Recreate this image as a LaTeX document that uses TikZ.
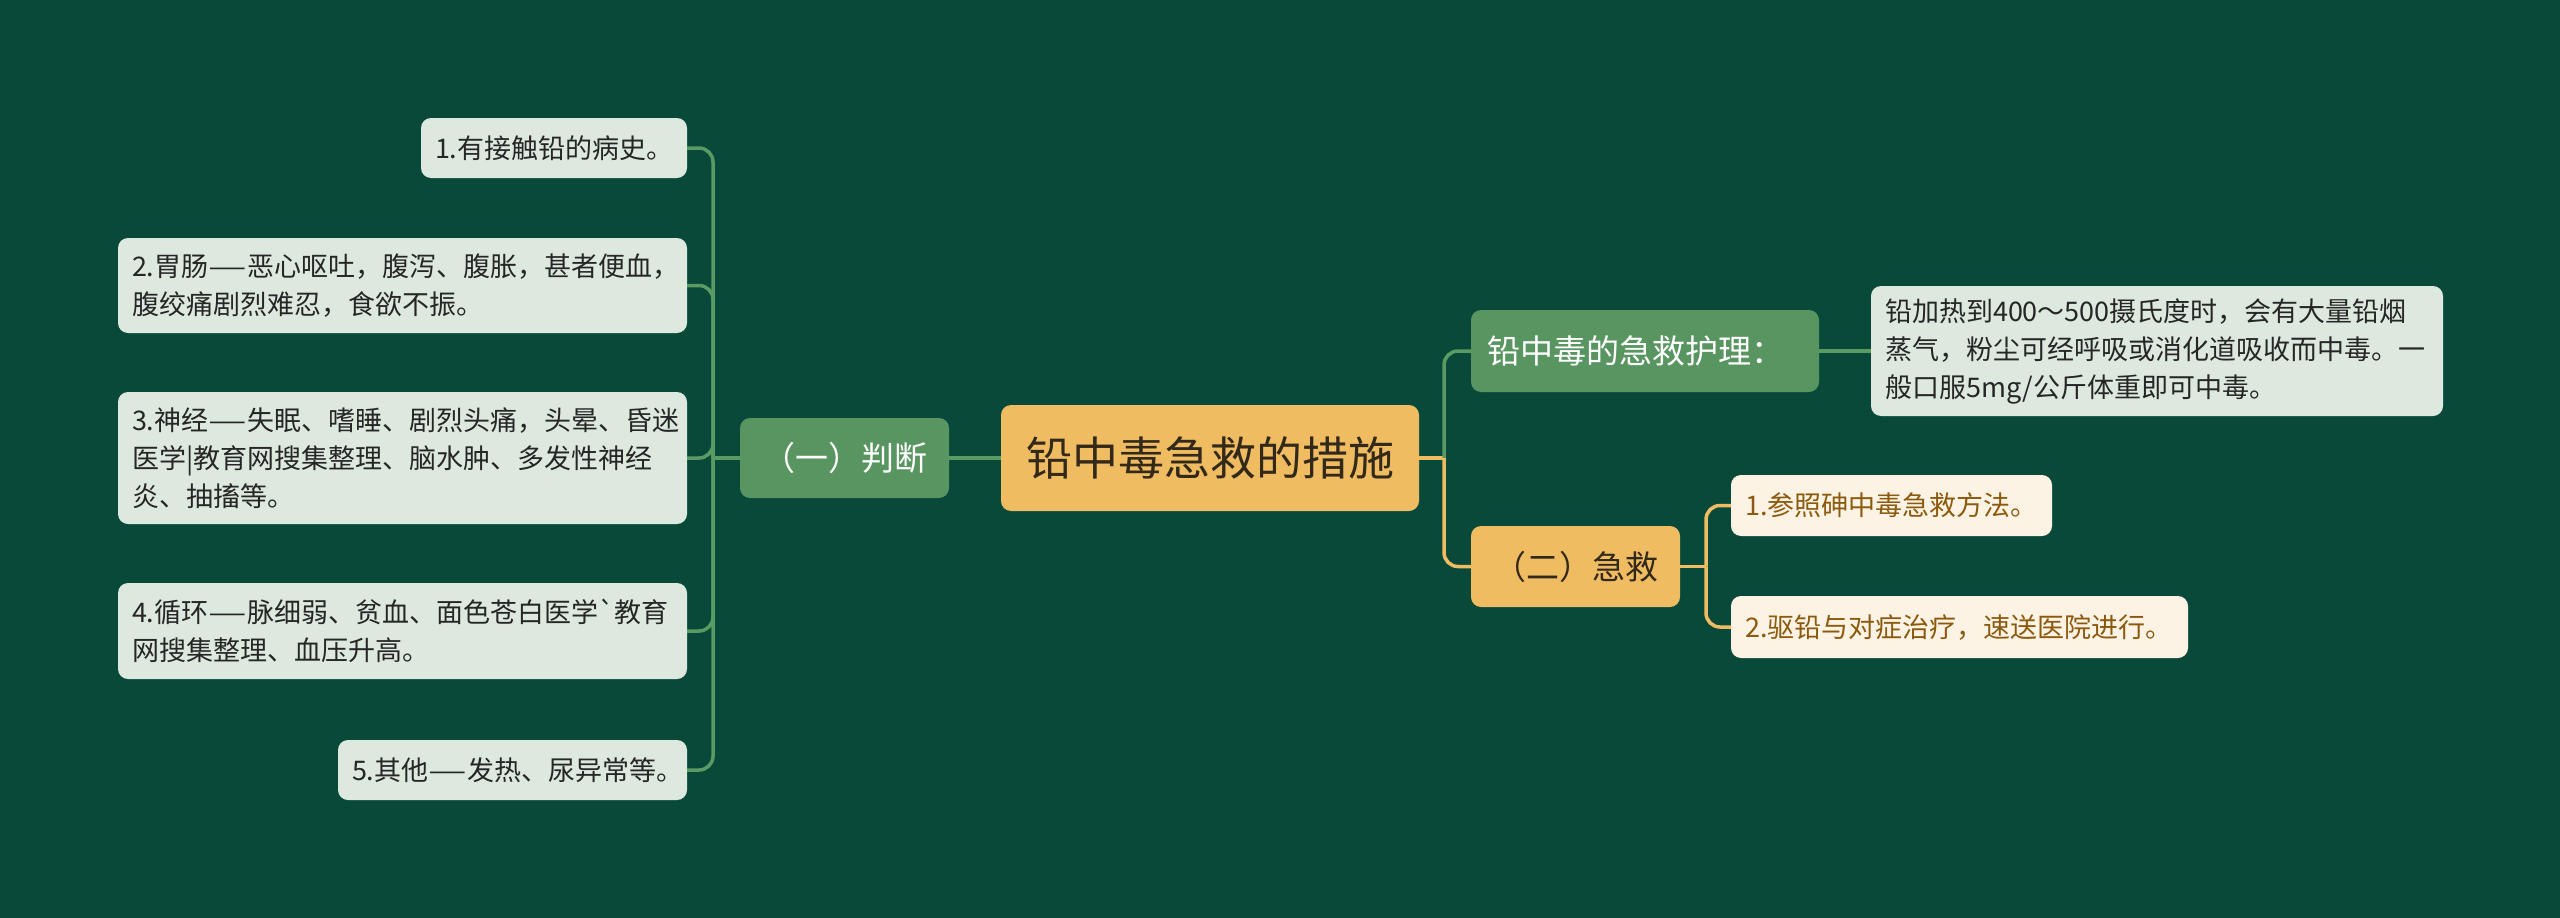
\documentclass[tikz,border=0pt]{standalone}
\usepackage{graphicx}
\usepackage{fontspec}
\newfontfamily\cjk{Noto Sans CJK SC}
\newcommand{\fwdash}{\scalebox{1.6}[1]{—}}
\definecolor{bgc}{HTML}{08493A}
\definecolor{greenfill}{HTML}{589560}
\definecolor{leaffill}{HTML}{DDE9DF}
\definecolor{orangefill}{HTML}{F0BC62}
\definecolor{creamfill}{HTML}{FDF3E4}
\definecolor{browntext}{HTML}{8C5A0E}
\definecolor{darktext}{HTML}{262626}
\definecolor{roottext}{HTML}{33291A}
\definecolor{greenline}{HTML}{5A9A63}
\definecolor{orangeline}{HTML}{F0BC62}
\begin{document}
\begin{tikzpicture}[x=1pt,y=-1pt,
  base/.style={rounded corners=10pt, inner xsep=14pt, inner ysep=0pt, outer sep=0pt},
  rootbox/.style={base, fill=orangefill, text=roottext, font=\cjk\fontsize{46pt}{54pt}\selectfont, align=center},
  greenbox/.style={base, fill=greenfill, text=white, font=\cjk\fontsize{33pt}{40pt}\selectfont, align=center},
  orangebox/.style={base, fill=orangefill, text=roottext, font=\cjk\fontsize{33pt}{40pt}\selectfont, align=center},
  leafbox/.style={base, fill=leaffill, text=darktext, font=\cjk\fontsize{27pt}{38pt}\selectfont, align=left},
  subbox/.style={base, fill=creamfill, text=browntext, font=\cjk\fontsize{27pt}{38pt}\selectfont, align=left},
  gline/.style={draw=greenline, line width=3.5pt},
  oline/.style={draw=orangeline, line width=3.5pt},
  roundbend/.style={rounded corners=14pt}
]
\fill[bgc] (0,0) rectangle (2560,918);
\useasboundingbox (0,0) rectangle (2560,918);

% centre
\node[rootbox, minimum width=418pt, minimum height=106pt] (root) at (1210,458) {铅中毒急救的措施};

% left branch
\node[greenbox, minimum width=209pt, minimum height=80pt] (judge) at (844.5,458) {（一）判断};
\node[leafbox, text width=238pt, minimum height=60pt] (l1) at (554,148) {1.有接触铅的病史。};
\node[leafbox, text width=541pt, minimum height=95pt] (l2) at (402.5,285.5) {2.胃肠\fwdash 恶心呕吐，腹泻、腹胀，甚者便血，\\腹绞痛剧烈难忍，食欲不振。};
\node[leafbox, text width=541pt, minimum height=132pt] (l3) at (402.5,458) {3.神经\fwdash 失眠、嗜睡、剧烈头痛，头晕、昏迷\\医学|教育网搜集整理、脑水肿、多发性神经\\炎、抽搐等。};
\node[leafbox, text width=541pt, minimum height=96pt] (l4) at (402.5,631) {4.循环\fwdash 脉细弱、贫血、面色苍白医学`教育\\网搜集整理、血压升高。};
\node[leafbox, text width=321pt, minimum height=60pt] (l5) at (512.5,770) {5.其他\fwdash 发热、尿异常等。};

% right branches
\node[greenbox, align=left, inner xsep=16pt, text width=316pt, minimum height=82pt] (care) at (1645,351) {铅中毒的急救护理：};
\node[leafbox, text width=544pt, minimum height=130pt] (careleaf) at (2157,351) {铅加热到400～500摄氏度时，会有大量铅烟\\蒸气，粉尘可经呼吸或消化道吸收而中毒。一\\般口服5mg/公斤体重即可中毒。};
\node[orangebox, minimum width=209pt, minimum height=81pt] (jiu) at (1575.5,566.5) {（二）急救};
\node[subbox, text width=293pt, minimum height=61pt] (s1) at (1891.5,505.5) {1.参照砷中毒急救方法。};
\node[subbox, text width=429pt, minimum height=62pt] (s2) at (1959.5,627) {2.驱铅与对症治疗，速送医院进行。};

% junctions
\coordinate (lt) at (713,458);
\coordinate (rt) at (1444,458);
\coordinate (jt) at (1706,566.5);

% connectors
\draw[gline] (root.west) -- (judge.east);
\draw[gline] (judge.west) -- (lt);
\foreach \n in {l1,l2,l3,l4,l5}{
  \draw[gline, roundbend] (lt) |- (\n.east);
}
\draw[oline] (root.east) -- (rt);
\draw[gline, roundbend] (rt) |- (care.west);
\draw[oline, roundbend] (rt) |- (jiu.west);
\draw[gline] (care.east) -- (careleaf.west);
\draw[oline] (jiu.east) -- (jt);
\draw[oline, roundbend] (jt) |- (s1.west);
\draw[oline, roundbend] (jt) |- (s2.west);
\end{tikzpicture}
\end{document}
